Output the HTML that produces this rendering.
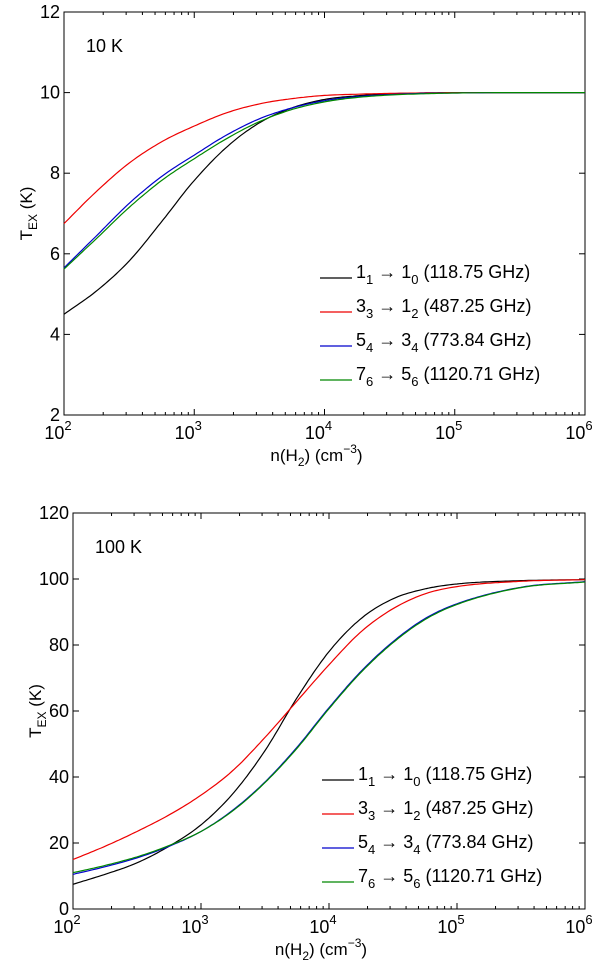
<!DOCTYPE html>
<html><head><meta charset="utf-8"><style>
body{margin:0;background:#fff;width:600px;height:966px;overflow:hidden}
svg{font-family:"Liberation Sans",sans-serif}
</style></head><body>
<svg id="c" width="600" height="966"></svg>
<script>
const logX=[2,2.25,2.5,2.75,3,3.25,3.5,3.75,4,4.25,4.5,4.75,5,5.5,6];
const topBlack=[4.5,5.08,5.82,6.8,7.82,8.65,9.25,9.62,9.83,9.92,9.97,9.99,10,10,10];
const topRed=[6.75,7.55,8.25,8.78,9.17,9.5,9.72,9.85,9.93,9.96,9.98,9.99,10,10,10];
const topBlue=[5.65,6.45,7.25,7.92,8.45,8.95,9.35,9.62,9.8,9.9,9.95,9.98,9.99,10,10];
const topGreen=[5.62,6.38,7.15,7.82,8.36,8.86,9.28,9.58,9.77,9.88,9.94,9.97,9.99,10,10];
const botBlack=[7.5,10.5,14,19,25.5,35,48,64,78,88,94,97,98.5,99.5,99.8];
const botRed=[15,19,23.5,28.5,34.5,42,52,63,74,84,91,95.5,97.7,99.3,99.8];
const botBlue=[10.5,12.8,15.5,19,23.5,30,38.5,49,61,72,81,88,92.5,97.5,99.2];
const botGreen=[11,13.2,15.8,19.2,23.5,29.8,38.3,48.7,60.7,71.7,80.7,87.7,92.3,97.4,99.1];
const topTicks=[2,4,6,8,10,12];
const botTicks=[0,20,40,60,80,100,120];
const xTicks=[2,3,4,5,6];
const legendLabels=[["1","1","1","0","(118.75 GHz)"],["3","3","1","2","(487.25 GHz)"],["5","4","3","4","(773.84 GHz)"],["7","6","5","6","(1120.71 GHz)"]];
const colors=["#000","#e00","#00c","#080"];
const NS="http://www.w3.org/2000/svg";
const svg=document.getElementById('c');
function mk(t,a,p){const e=document.createElementNS(NS,t);for(const k in a)e.setAttribute(k,a[k]);(p||svg).appendChild(e);return e;}
function monotone(xs,ys){const n=xs.length,d=[],m=[];
  for(let i=0;i<n-1;i++)d.push((ys[i+1]-ys[i])/(xs[i+1]-xs[i]));
  m[0]=d[0];m[n-1]=d[n-2];
  for(let i=1;i<n-1;i++)m[i]=(d[i-1]*d[i]<=0)?0:(d[i-1]+d[i])/2;
  for(let i=0;i<n-1;i++){if(d[i]==0){m[i]=0;m[i+1]=0;continue;}const a=m[i]/d[i],b=m[i+1]/d[i],s=a*a+b*b;if(s>9){const t=3/Math.sqrt(s);m[i]=t*a*d[i];m[i+1]=t*b*d[i];}}
  return x=>{let i=0;while(i<n-2&&x>xs[i+1])i++;const h=xs[i+1]-xs[i],t=(x-xs[i])/h;
    const h00=2*t*t*t-3*t*t+1,h10=t*t*t-2*t*t+t,h01=-2*t*t*t+3*t*t,h11=t*t*t-t*t;
    return h00*ys[i]+h10*h*m[i]+h01*ys[i+1]+h11*h*m[i+1];};}
function panel(cfg){
  const g=mk('g',{});
  
  
  const X=v=>cfg.l+(v-2)/4*(cfg.r-cfg.l);
  const Y=v=>cfg.b-(v-cfg.ymin)/(cfg.ymax-cfg.ymin)*(cfg.b-cfg.t);
  const box=mk('rect',{x:cfg.l,y:cfg.t,width:cfg.r-cfg.l,height:cfg.b-cfg.t,fill:'none',stroke:'#000','stroke-width':1},g);
  
  for(let d=2;d<6;d++)for(let m=1;m<10;m++){const x=X(d+Math.log10(m));const L=m==1?6:3;
    mk('line',{x1:x,x2:x,y1:cfg.b,y2:cfg.b-L,stroke:'#000'},g);mk('line',{x1:x,x2:x,y1:cfg.t,y2:cfg.t+L,stroke:'#000'},g);}
  xTicks.forEach(d=>{const t=mk('text',{x:X(d)-6,y:cfg.b+24,'font-size':18,'text-anchor':'middle'},g);
    
    t.textContent='10';const s=mk('tspan',{dy:-9,'font-size':13},t);s.textContent=d;});
  cfg.ticks.forEach(v=>{const y=Y(v);mk('line',{x1:cfg.l,x2:cfg.l+6,y1:y,y2:y,stroke:'#000'},g);mk('line',{x1:cfg.r,x2:cfg.r-6,y1:y,y2:y,stroke:'#000'},g);
    const t=mk('text',{x:cfg.l-4,y:y+6,'font-size':18,'text-anchor':'end'},g);
    t.textContent=v;});
  const xt=mk('text',{x:(cfg.l+cfg.r)/2-8,y:cfg.b+46,'font-size':17,'text-anchor':'middle'},g);
  
  xt.innerHTML='n(H<tspan dy="5" font-size="12">2</tspan><tspan dy="-5">) (cm</tspan><tspan dy="-8" font-size="12">−3</tspan><tspan dy="8">)</tspan>';
  const yt=mk('text',{transform:`translate(${cfg.l-32},${(cfg.t+cfg.b)/2}) rotate(-90)`,'font-size':17,'text-anchor':'middle'},g);
  
  yt.innerHTML='T<tspan dy="5" font-size="12">EX</tspan><tspan dy="-5"> (K)</tspan>';
  const tl=mk('text',{x:cfg.l+22,y:cfg.t+40,'font-size':18},g);
  tl.textContent=cfg.label;
  cfg.series.forEach((s,i)=>{const f=monotone(logX,s);const pts=[];
    for(let k=0;k<=200;k++){const v=2+4*k/200;pts.push(X(v).toFixed(1)+','+Y(f(v)).toFixed(1));}
    const p=mk('path',{d:'M'+pts.join('L'),fill:'none',stroke:colors[i],'stroke-width':1.2},g);
    });
  legendLabels.forEach((lb,i)=>{const y=cfg.legY+i*34;
    const ln=mk('line',{x1:cfg.legX,x2:cfg.legX+32,y1:y,y2:y,stroke:colors[i],'stroke-width':1.2},g);
    
    const t=mk('text',{x:cfg.legX+36,y:y,'font-size':18},g);
    
    t.innerHTML=`${lb[0]}<tspan dy="6" font-size="13">${lb[1]}</tspan><tspan dy="-6"> → ${lb[2]}</tspan><tspan dy="6" font-size="13">${lb[3]}</tspan><tspan dy="-6"> ${lb[4]}</tspan>`;});
}
panel({name:'panel-10k',l:64,r:585,t:12,b:415,ymin:2,ymax:12,ticks:topTicks,label:'10 K',series:[topBlack,topRed,topBlue,topGreen],legX:320,legY:278});
panel({name:'panel-100k',l:73,r:585,t:513,b:909,ymin:0,ymax:120,ticks:botTicks,label:'100 K',series:[botBlack,botRed,botBlue,botGreen],legX:322,legY:780});
</script>
</body></html>
